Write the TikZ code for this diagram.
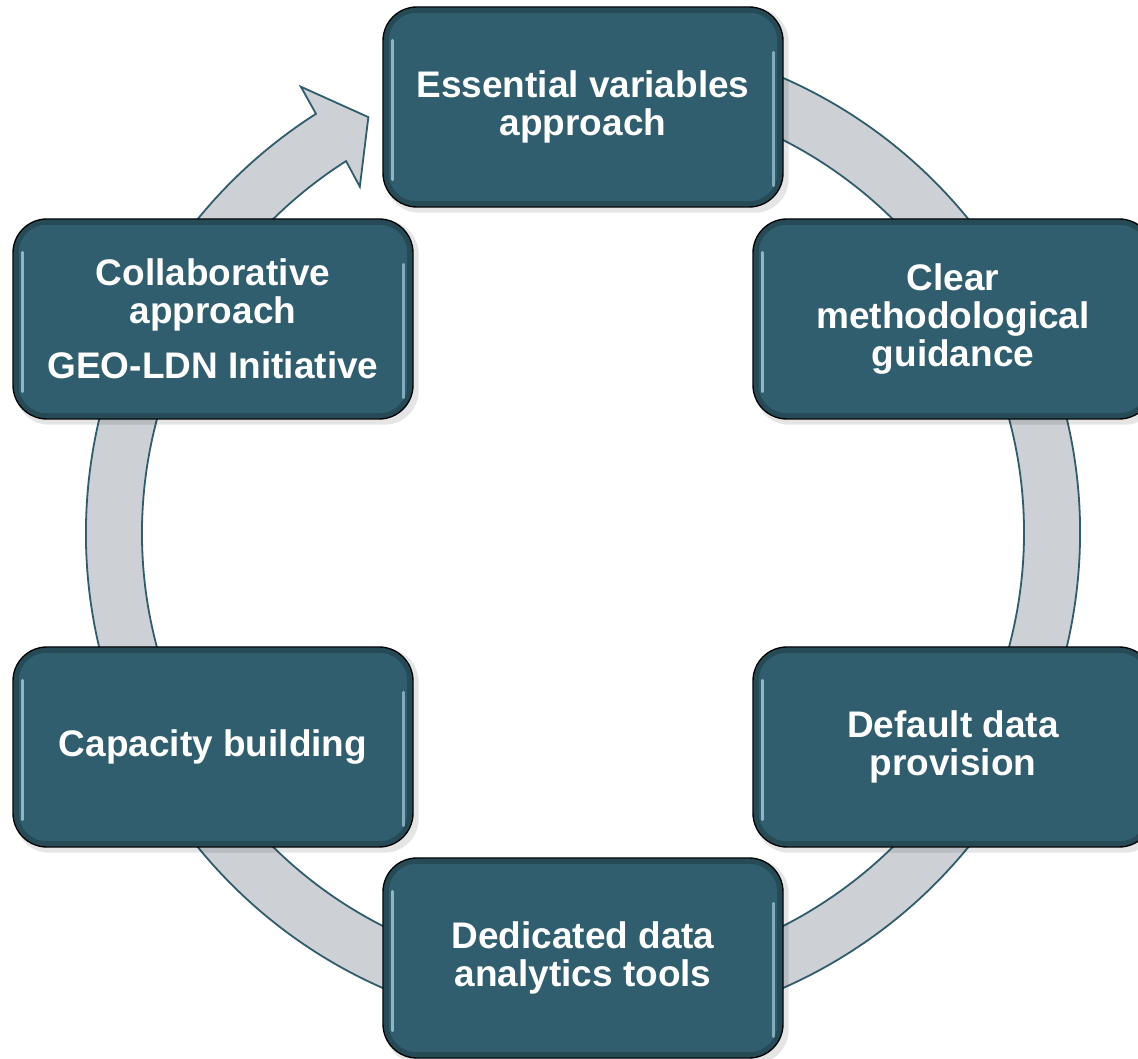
\documentclass[tikz,border=0pt]{standalone}
\usepackage{fontspec}
\setmainfont{Liberation Sans}
\definecolor{boxfill}{RGB}{48,94,110}
\definecolor{ringfill}{RGB}{205,209,214}
\definecolor{ringedge}{RGB}{48,92,108}
\definecolor{hilite}{RGB}{165,205,220}
\newcommand\boxfont{\fontsize{37pt}{38pt}\selectfont\bfseries}
\tikzset{
  cyclebox/.style={rounded corners=34pt, minimum width=400pt, minimum height=200pt,
    fill=boxfill, draw=black, line width=1.4pt, text=white, font=\boxfont,
    align=center, inner sep=0pt},
  ringstyle/.style={fill=ringfill, draw=ringedge, line width=1.8pt, line join=miter},
}
\newcommand\bevel[1]{%
  \fill[black, opacity=0.10, rounded corners=34pt] ([shift={(3pt,-5pt)}]#1.south west) rectangle ([shift={(5pt,-2pt)}]#1.north east);
}
\newcommand\shine[1]{%
  \draw[boxfill!55!black, opacity=0.45, line width=5pt, rounded corners=30pt]
    ([shift={(4pt,4pt)}]#1.south west) rectangle ([shift={(-4pt,-4pt)}]#1.north east);
  \draw[hilite, opacity=0.8, line width=3pt, line cap=round]
    ([shift={(10pt,28pt)}]#1.south west) -- ([shift={(10pt,-34pt)}]#1.north west);
  \draw[hilite, opacity=0.7, line width=3pt, line cap=round]
    ([shift={(-10pt,22pt)}]#1.south east) -- ([shift={(-10pt,-46pt)}]#1.north east);
}
\begin{document}
\begin{tikzpicture}[x=1pt, y=1pt]
\useasboundingbox (0,0) rectangle (1138,1058);
% ring arrow
\begin{scope}[shift={(583,525)}]
  \path[ringstyle] (80:497pt) arc[start angle=80, end angle=-237.5, radius=497pt]
    -- (122.3:528pt) -- (117.3:468pt) -- (122.8:412pt) -- (122.5:441pt)
    arc[start angle=-237.5, end angle=80, radius=441pt] -- cycle;
\end{scope}
% positions
\path (583,951) coordinate (c1) (953,739) coordinate (c2) (953,311) coordinate (c3)
      (583,100) coordinate (c4) (213,311) coordinate (c5) (213,739) coordinate (c6);
% shadows
\node[cyclebox, fill=none, draw=none] (s1) at (c1) {};
\node[cyclebox, fill=none, draw=none] (s2) at (c2) {};
\node[cyclebox, fill=none, draw=none] (s3) at (c3) {};
\node[cyclebox, fill=none, draw=none] (s4) at (c4) {};
\node[cyclebox, fill=none, draw=none] (s5) at (c5) {};
\node[cyclebox, fill=none, draw=none] (s6) at (c6) {};
\bevel{s1}\bevel{s2}\bevel{s3}\bevel{s4}\bevel{s5}\bevel{s6}
% boxes
\node[cyclebox] (n1) at (c1) {Essential variables\\approach};
\node[cyclebox] (n2) at (c2) {Clear\\methodological\\guidance};
\node[cyclebox] (n3) at (c3) {Default data\\provision};
\node[cyclebox] (n4) at (c4) {Dedicated data\\analytics tools};
\node[cyclebox] (n5) at (c5) {Capacity building};
\node[cyclebox] (n6) at (c6) {Collaborative\\approach\\[17pt]GEO-LDN Initiative};
\shine{n1}\shine{n2}\shine{n3}\shine{n4}\shine{n5}\shine{n6}
\end{tikzpicture}
\end{document}
